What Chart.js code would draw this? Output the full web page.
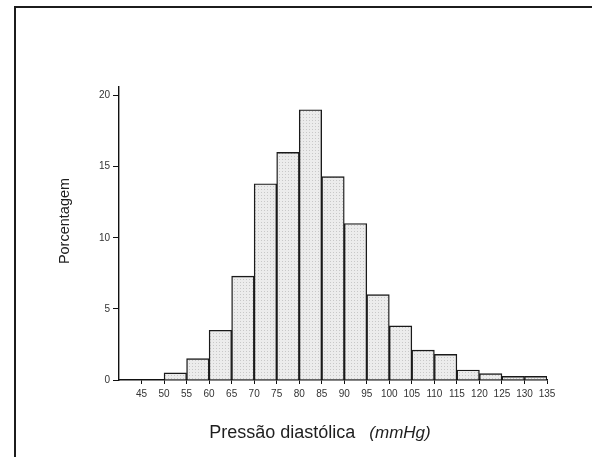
<!DOCTYPE html>
<html>
<head>
<meta charset="utf-8">
<script src="https://cdn.jsdelivr.net/npm/chart.js@4/dist/chart.umd.min.js"></script>
<style>
    html, body { margin: 0; padding: 0; background: #fff; }
    #wrap { position: relative; width: 592px; height: 457px; overflow: hidden; }
    #frame {
        position: absolute; left: 14px; top: 6px; right: -4px; bottom: -4px;
        border-left: 2px solid #1c1c1c; border-top: 2px solid #1c1c1c;
    }
    #box { position: absolute; left: 0; top: 0; width: 592px; height: 457px; }
</style>
</head>
<body>
<div id="wrap">
    <div id="frame"></div>
    <div id="box"><canvas id="histChart"></canvas></div>
</div>
<script>
// limites das classes (mmHg) e porcentagem em cada classe
const binEdges = [45, 50, 55, 60, 65, 70, 75, 80, 85, 90, 95, 100, 105, 110, 115, 120, 125, 130, 135];
const percentages = [0, 0.5, 1.5, 3.5, 7.3, 13.8, 16.0, 19.0, 14.3, 11.0, 6.0, 3.8, 2.1, 1.8, 0.7, 0.45, 0.25, 0.25];
const yTicks = [0, 5, 10, 15, 20];

const yTitle = 'Porcentagem';
const xTitle = 'Pressão diastólica';
const xUnit = '(mmHg)';

// textura pontilhada das barras
function stipple() {
    const c = document.createElement('canvas');
    c.width = 3;
    c.height = 3;
    const g = c.getContext('2d');
    g.fillStyle = '#ececec';
    g.fillRect(0, 0, 3, 3);
    g.fillStyle = '#c8c8c8';
    g.fillRect(0, 0, 1, 1);
    return g.createPattern(c, 'repeat');
}

const bars = percentages.map((v, i) => ({ x: (binEdges[i] + binEdges[i + 1]) / 2, y: v }));

const titlesPlugin = {
    id: 'titles',
    afterDraw(chart) {
        const ctx = chart.ctx;
        const area = chart.chartArea;
        ctx.save();
        ctx.fillStyle = '#1e1e1e';
        ctx.textBaseline = 'alphabetic';

        // eixo y
        ctx.font = '14.5px "Liberation Sans", Arial, sans-serif';
        ctx.translate(area.left - 50, 221);
        ctx.rotate(-Math.PI / 2);
        ctx.textAlign = 'center';
        ctx.fillText(yTitle, 0, 0);
        ctx.setTransform(1, 0, 0, 1, 0, 0);

        // eixo x
        ctx.textAlign = 'left';
        ctx.font = '18px "Liberation Sans", Arial, sans-serif';
        const w1 = ctx.measureText(xTitle).width;
        ctx.font = 'italic 17px "Liberation Sans", Arial, sans-serif';
        const w2 = ctx.measureText(xUnit).width;
        const gap = 14;
        const x0 = 320 - (w1 + gap + w2) / 2;
        const y0 = area.bottom + 58;
        ctx.font = '18px "Liberation Sans", Arial, sans-serif';
        ctx.fillText(xTitle, x0, y0);
        ctx.font = 'italic 17px "Liberation Sans", Arial, sans-serif';
        ctx.fillText(xUnit, x0 + w1 + gap, y0);
        ctx.restore();
    }
};

new Chart(document.getElementById('histChart'), {
    type: 'bar',
    data: {
        datasets: [{
            data: bars,
            backgroundColor: stipple(),
            borderColor: '#1a1a1a',
            borderWidth: 1.4,
            borderSkipped: 'bottom',
            barPercentage: 1,
            categoryPercentage: 1
        }]
    },
    options: {
        responsive: true,
        maintainAspectRatio: false,
        animation: false,
        layout: { padding: { left: 0, top: 87, right: 45, bottom: 0 } },
        plugins: {
            legend: { display: false },
            tooltip: { enabled: false }
        },
        scales: {
            x: {
                type: 'linear',
                offset: false,
                min: 40,
                max: 135,
                afterBuildTicks: s => { s.ticks = binEdges.map(v => ({ value: v })); },
                afterFit: s => { s.height = 77; },
                border: { display: true, color: '#111', width: 1.4 },
                grid: { offset: false, drawOnChartArea: false, color: '#111', tickLength: 4, lineWidth: 1 },
                ticks: {
                    color: '#333',
                    padding: 4,
                    maxRotation: 0,
                    autoSkip: false,
                    font: { family: '"Liberation Sans", Arial, sans-serif', size: 10 }
                }
            },
            y: {
                min: 0,
                max: 20.6,
                afterBuildTicks: s => { s.ticks = yTicks.map(v => ({ value: v })); },
                afterFit: s => { s.width = 119; },
                border: { display: true, color: '#111', width: 1.4 },
                grid: { offset: false, drawOnChartArea: false, color: '#111', tickLength: 6, lineWidth: 1 },
                ticks: {
                    color: '#333',
                    padding: 3,
                    font: { family: '"Liberation Sans", Arial, sans-serif', size: 10 }
                }
            }
        }
    },
    plugins: [titlesPlugin]
});
</script>
</body>
</html>
